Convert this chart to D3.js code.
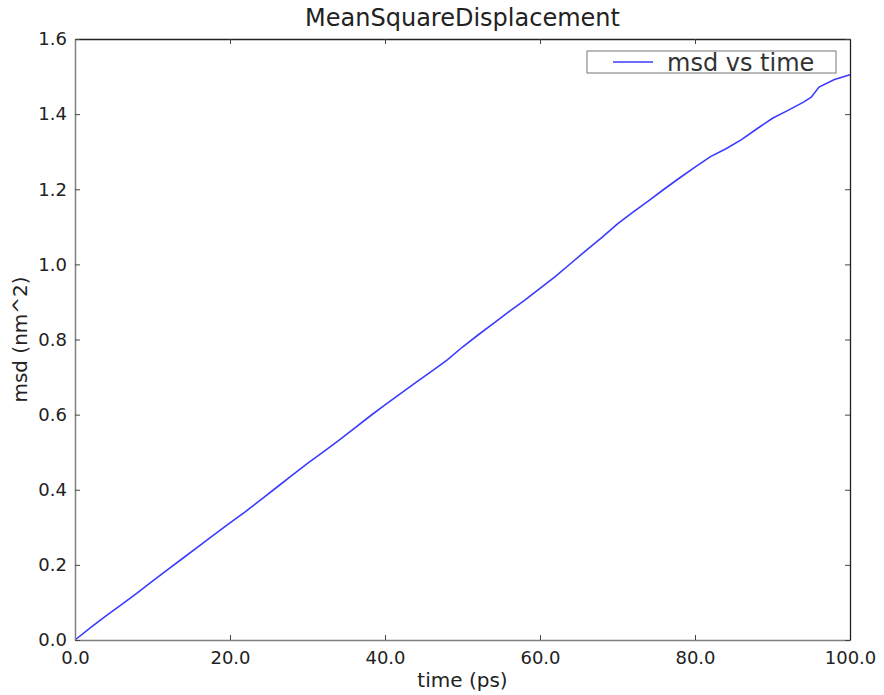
<!DOCTYPE html>
<html>
<head>
<meta charset="utf-8">
<script src="https://cdn.jsdelivr.net/npm/d3@7"></script>
<style>
  body { margin: 0; background: white; }
  text { font-family: "DejaVu Sans", sans-serif; fill: #222; }
</style>
</head>
<body>
<div id="canvas"></div>
<script>
// DATA
const times = [0, 2, 4, 6, 8, 10, 12, 14, 16, 18, 20, 22, 24, 26, 28, 30, 32, 34, 36, 38, 40,
    42, 44, 46, 48, 50, 52, 54, 56, 58, 60, 62, 64, 66, 68, 70, 72, 74, 76, 78, 80,
    82, 84, 86, 88, 90, 92, 94, 95, 96, 98, 100];
const msd = [0.0, 0.033, 0.064, 0.094, 0.125, 0.157, 0.188, 0.219, 0.250, 0.281, 0.312,
    0.342, 0.374, 0.406, 0.438, 0.470, 0.500, 0.531, 0.563, 0.595, 0.626,
    0.656, 0.686, 0.715, 0.745, 0.780, 0.812, 0.843, 0.874, 0.904, 0.936,
    0.968, 1.003, 1.038, 1.072, 1.108, 1.139, 1.169, 1.200, 1.230, 1.259,
    1.287, 1.308, 1.332, 1.361, 1.389, 1.410, 1.432, 1.445, 1.472, 1.492, 1.505];
const xTicks = [0, 20, 40, 60, 80, 100];
const yTicks = [0, 0.2, 0.4, 0.6, 0.8, 1.0, 1.2, 1.4, 1.6];

const data = times.map((t, i) => ({ t: t, v: msd[i] }));

// DIMENSIONS
const width = 884;
const height = 695;
const margin = { top: 39, right: 34, bottom: 55, left: 75 };
const plot_width = width - margin.left - margin.right;
const plot_height = height - margin.top - margin.bottom;

// CANVAS
const canvas = d3.select("#canvas")
    .append("svg")
    .attr("width", width)
    .attr("height", height);

const plot = canvas.append("g")
    .attr("transform", `translate(${margin.left}, ${margin.top})`);

// SCALES
const xScale = d3.scaleLinear().domain([0, 100]).range([0, plot_width]);
const yScale = d3.scaleLinear().domain([0, 1.6]).range([plot_height, 0]);

// LINE
const makeLine = d3.line()
    .x(d => xScale(d.t))
    .y(d => yScale(d.v));

plot.append("path")
    .attr("d", makeLine(data))
    .style("stroke", "#3b3bff")
    .style("stroke-width", 1.6)
    .style("fill", "none");

// AXES (matplotlib style: inward ticks on all sides)
const fmt = d3.format(".1f");
const tick = 5;

const xBottom = plot.append("g")
    .attr("transform", `translate(0, ${plot_height})`)
    .call(d3.axisBottom(xScale).tickValues(xTicks).tickFormat(fmt)
        .tickSizeInner(-tick).tickSizeOuter(0).tickPadding(11));
const xTop = plot.append("g")
    .call(d3.axisTop(xScale).tickValues(xTicks).tickFormat("")
        .tickSizeInner(-tick).tickSizeOuter(0));
const yLeft = plot.append("g")
    .call(d3.axisLeft(yScale).tickValues(yTicks).tickFormat(fmt)
        .tickSizeInner(-tick).tickSizeOuter(0).tickPadding(8));
const yRight = plot.append("g")
    .attr("transform", `translate(${plot_width}, 0)`)
    .call(d3.axisRight(yScale).tickValues(yTicks).tickFormat("")
        .tickSizeInner(-tick).tickSizeOuter(0));

[xBottom, yLeft].forEach(a => a.select(".domain").style("stroke", "#808080").style("stroke-width", 1.5));
[xTop, yRight].forEach(a => a.select(".domain").style("stroke", "#222").style("stroke-width", 1.3));
[xBottom, xTop, yLeft, yRight].forEach(a => {
    a.selectAll(".tick line").style("stroke", "#444");
    a.selectAll(".tick text").style("font-size", "18px").style("fill", "#222")
        .style("font-family", "DejaVu Sans, sans-serif");
});

// TITLE + LABELS
canvas.append("text")
    .attr("x", margin.left + plot_width / 2)
    .attr("y", 26)
    .attr("text-anchor", "middle")
    .style("font-size", "24px")
    .text("MeanSquareDisplacement");

canvas.append("text")
    .attr("x", margin.left + plot_width / 2)
    .attr("y", 687)
    .attr("text-anchor", "middle")
    .style("font-size", "20px")
    .text("time (ps)");

canvas.append("text")
    .attr("transform", `translate(27, ${margin.top + plot_height / 2}) rotate(-90)`)
    .attr("text-anchor", "middle")
    .style("font-size", "20px")
    .text("msd (nm^2)");

// LEGEND
const legend = plot.append("g")
    .attr("transform", `translate(${plot_width - 263}, 12)`);
legend.append("rect")
    .attr("width", 249)
    .attr("height", 22)
    .style("fill", "white")
    .style("stroke", "#777");
legend.append("line")
    .attr("x1", 26).attr("x2", 66)
    .attr("y1", 11).attr("y2", 11)
    .style("stroke", "#3b3bff")
    .style("stroke-width", 1.6);
legend.append("text")
    .attr("x", 80)
    .attr("y", 20)
    .style("font-size", "24px")
    .style("fill", "#333")
    .text("msd vs time");
</script>
</body>
</html>
